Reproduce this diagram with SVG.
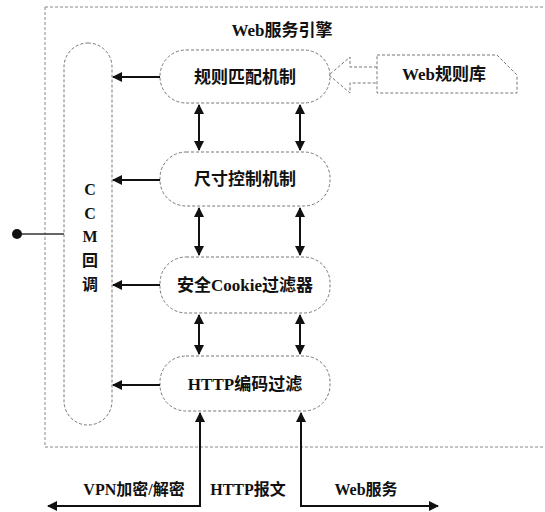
<svg xmlns="http://www.w3.org/2000/svg" width="545" height="512" viewBox="0 0 545 512">
<style>
.t{font-family:"Liberation Serif","Noto Sans CJK SC",serif;font-weight:bold;fill:#111;text-anchor:middle}
.node{fill:none;stroke:#777;stroke-width:1;stroke-dasharray:3 2}
.frame{fill:none;stroke:#888;stroke-width:1;stroke-dasharray:3 2}
.ar{stroke:#111;stroke-width:2;fill:none}
</style>
<defs>
<marker id="ah" viewBox="0 0 10 10" refX="9" refY="5" markerWidth="5" markerHeight="5" orient="auto-start-reverse">
<path d="M0,0 L10,5 L0,10 Z" fill="#111"/>
</marker>
</defs>
<rect fill="#fff" width="545" height="512"/>
<g id="engine">
<path class="frame" d="M45,7 H545 M45,7 V447 H545"/>
<text class="t" x="282" y="36" font-size="17">Web服务引擎</text>
</g>
<g id="ccm">
<rect class="node" x="64" y="43" width="48" height="382" rx="24"/>
<text class="t" x="90" y="195" font-size="16">C</text>
<text class="t" x="90" y="219" font-size="16">C</text>
<text class="t" x="90" y="242" font-size="16">M</text>
<text class="t" x="90" y="266" font-size="16">回</text>
<text class="t" x="90" y="290" font-size="16">调</text>
</g>
<g id="rules">
<rect class="node" x="160" y="50" width="170" height="53" rx="26"/>
<text class="t" x="245" y="83" font-size="17">规则匹配机制</text>
</g>
<g id="size">
<rect class="node" x="160" y="152" width="170" height="54" rx="26"/>
<text class="t" x="245" y="185" font-size="17">尺寸控制机制</text>
</g>
<g id="cookie">
<rect class="node" x="160" y="257" width="170" height="56" rx="26"/>
<text class="t" x="245" y="291" font-size="17">安全Cookie过滤器</text>
</g>
<g id="http">
<rect class="node" x="160" y="356" width="170" height="55" rx="26"/>
<text class="t" x="245" y="390" font-size="17">HTTP编码过滤</text>
</g>
<g id="rulebase">
<path class="node" d="M377,55 H497 L517,75 V93 H377 Z"/>
<text class="t" x="444" y="80" font-size="17">Web规则库</text>
</g>
<g id="connectors">
<path class="node" d="M377,67 H350 V57 L329,75 L350,93 V83 H377"/>
<line class="ar" x1="160" y1="77" x2="113" y2="77" marker-end="url(#ah)"/>
<line class="ar" x1="160" y1="180" x2="113" y2="180" marker-end="url(#ah)"/>
<line class="ar" x1="160" y1="285" x2="113" y2="285" marker-end="url(#ah)"/>
<line class="ar" x1="160" y1="385" x2="113" y2="385" marker-end="url(#ah)"/>
<line class="ar" x1="199" y1="105" x2="199" y2="150" marker-start="url(#ah)" marker-end="url(#ah)"/>
<line class="ar" x1="300" y1="105" x2="300" y2="150" marker-start="url(#ah)" marker-end="url(#ah)"/>
<line class="ar" x1="199" y1="208" x2="199" y2="255" marker-start="url(#ah)" marker-end="url(#ah)"/>
<line class="ar" x1="300" y1="208" x2="300" y2="255" marker-start="url(#ah)" marker-end="url(#ah)"/>
<line class="ar" x1="199" y1="315" x2="199" y2="354" marker-start="url(#ah)" marker-end="url(#ah)"/>
<line class="ar" x1="300" y1="315" x2="300" y2="354" marker-start="url(#ah)" marker-end="url(#ah)"/>
<path class="ar" d="M48,506 H200 V413" marker-start="url(#ah)" marker-end="url(#ah)"/>
<path class="ar" d="M301,413 V506 H438" marker-start="url(#ah)" marker-end="url(#ah)"/>
<line x1="17" y1="234" x2="64" y2="234" stroke="#333" stroke-width="1.5"/>
<circle cx="17" cy="234" r="5" fill="#111"/>
</g>
<g id="labels">
<text class="t" x="134" y="495" font-size="16">VPN加密/解密</text>
<text class="t" x="248" y="495" font-size="16">HTTP报文</text>
<text class="t" x="366" y="495" font-size="16">Web服务</text>
</g>
</svg>
